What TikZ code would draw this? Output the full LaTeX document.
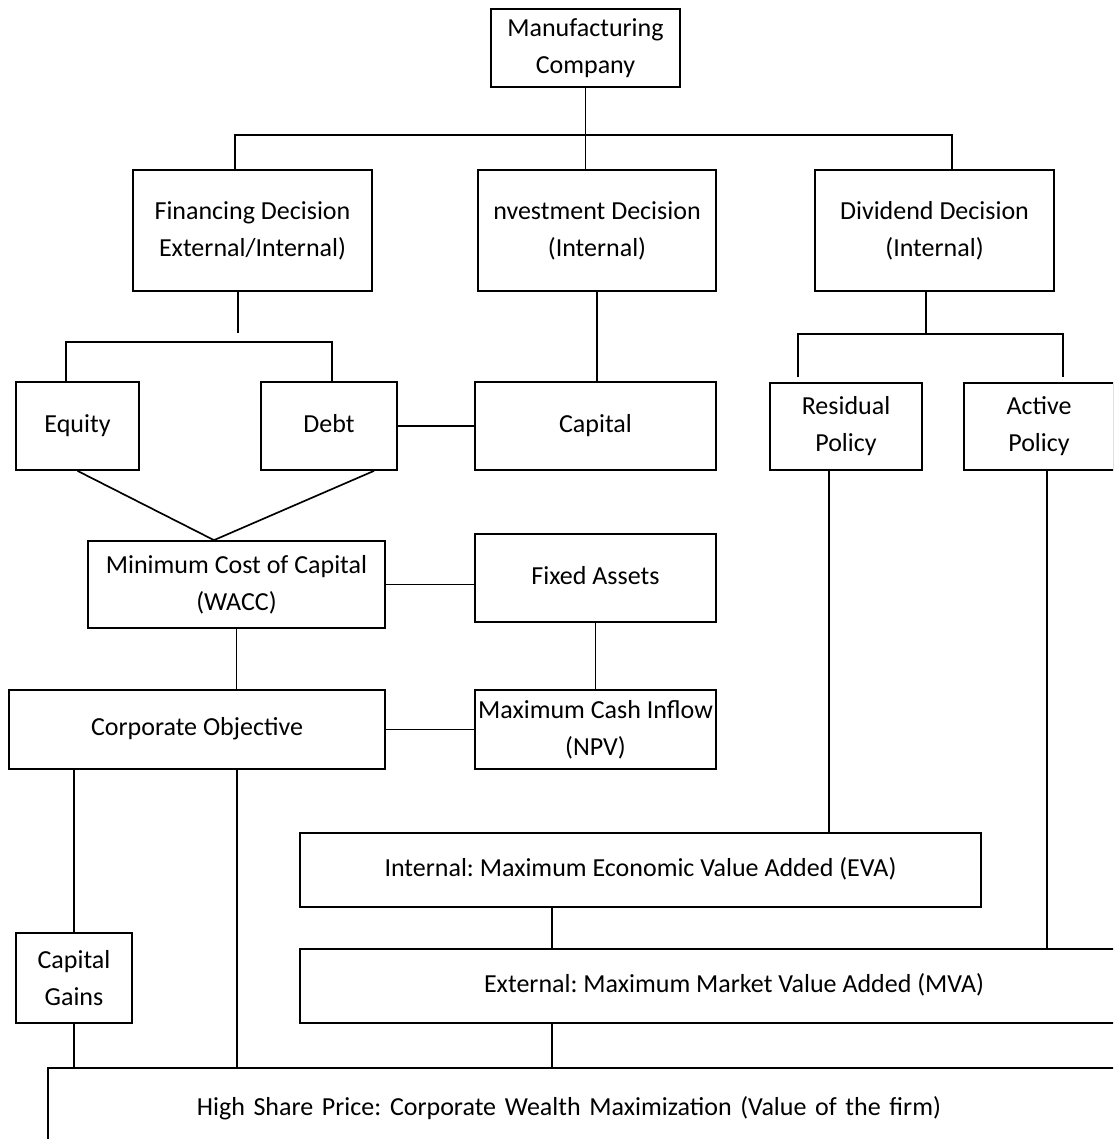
\documentclass[tikz,border=0pt]{standalone}
\usepackage{fontspec}
\setmainfont{Carlito}
\frenchspacing

\begin{document}
\begin{tikzpicture}[
  x=0.02cm, y=-0.02cm,
  font=\fontsize{14.8}{21}\selectfont,
  box/.style={draw, line width=1pt, align=center, inner sep=2pt},
  one/.style={text height=2.1ex, text depth=0.6ex},
  con/.style={line width=0.95pt}
]
\clip (0,0) rectangle (1113,1139);
% decisions
\node[box, minimum width=3.78cm, minimum height=1.56cm] (mfg) at (585.5,48) {Manufacturing\\Company};
\node[box, minimum width=4.78cm, minimum height=2.42cm] (fin) at (252.5,230.5) {Financing Decision\\External/Internal)};
\node[box, minimum width=4.76cm, minimum height=2.42cm] (inv) at (597,230.5) {nvestment Decision\\(Internal)};
\node[box, minimum width=4.78cm, minimum height=2.42cm] (div) at (934.5,230.5) {Dividend Decision\\(Internal)};
\node[box, one, minimum width=2.46cm, minimum height=1.76cm] (eq) at (77.5,426) {Equity};
\node[box, one, minimum width=2.72cm, minimum height=1.76cm] (debt) at (329,426) {Debt};
\node[box, one, minimum width=4.82cm, minimum height=1.76cm] (cap) at (595.5,426) {Capital};
\node[box, minimum width=3.04cm, minimum height=1.74cm] (res) at (846,426.5) {Residual\\Policy};
\node[box, minimum width=3.00cm, minimum height=1.74cm] (act) at (1039,426.5) {Active\\Policy};
% objectives
\node[box, minimum width=5.94cm, minimum height=1.74cm] (wacc) at (236.5,584.5) {Minimum Cost of Capital\\(WACC)};
\node[box, one, minimum width=4.82cm, minimum height=1.76cm] (fix) at (595.5,578) {Fixed Assets};
\node[box, one, minimum width=7.52cm, minimum height=1.58cm] (corp) at (197,729.5) {Corporate Objective};
\node[box, minimum width=4.82cm, minimum height=1.58cm, inner sep=0pt] (cash) at (595.5,729.5) {Maximum Cash Inflow\\(NPV)};
\node[box, one, minimum width=13.62cm, minimum height=1.48cm] (eva) at (640.5,870) {Internal: Maximum Economic Value Added (EVA)};
\node[box, one, minimum width=17.36cm, minimum height=1.48cm] (mva) at (734,986) {External: Maximum Market Value Added (MVA)};
\node[box, minimum width=2.32cm, minimum height=1.80cm] (gains) at (74,978) {Capital\\Gains};
\node[box, one, anchor=north west, align=left, text width=17cm, inner xsep=2.98cm, minimum height=1.64cm] (high) at (47,1067) {High Share Price: Corporate Wealth Maximization (Value of the firm)};
% links
\coordinate (bus) at (586,135);
\coordinate (finbus) at (238,342);
\coordinate (divbus) at (926,334);
\draw[con] (mfg.south) -- (mfg.south |- inv.north);
\draw[con] (235,0 |- fin.north) |- (bus) -| (952,0 |- div.north);
\draw[con, shorten >=0.18cm] (238,0 |- fin.south) -- (finbus);
\draw[con] (66,0 |- eq.north) |- (finbus) -| (332,0 |- debt.north);
\draw[con] (inv.south) -- (inv.south |- cap.north);
\draw[con] (debt.east) -- (cap.west);
\draw[con] (926,0 |- div.south) -- (divbus);
\draw[con, shorten <=0.1cm, shorten >=0.1cm] (798,0 |- res.north) |- (divbus) -| (1063,0 |- act.north);
\draw[con] (eq.south) -- (214,0 |- wacc.north);
\draw[con] (374,0 |- debt.south) -- (214,0 |- wacc.north);
\draw[con] (wacc.east) -- (wacc.east -| fix.west);
\draw[con] (wacc.south) -- (wacc.south |- corp.north);
\draw[con] (fix.south) -- (cash.north);
\draw[con] (corp.east) -- (cash.west);
\draw[con] (gains.north |- corp.south) -- (gains.north);
\draw[con] (237,0 |- corp.south) -- (237,0 |- high.north);
\draw[con] (829,0 |- res.south) -- (829,0 |- eva.north);
\draw[con] (1047,0 |- act.south) -- (1047,0 |- mva.north);
\draw[con] (552,0 |- eva.south) -- (552,0 |- mva.north);
\draw[con] (552,0 |- mva.south) -- (552,0 |- high.north);
\draw[con] (gains.south) -- (gains.south |- high.north);
\end{tikzpicture}
\end{document}
